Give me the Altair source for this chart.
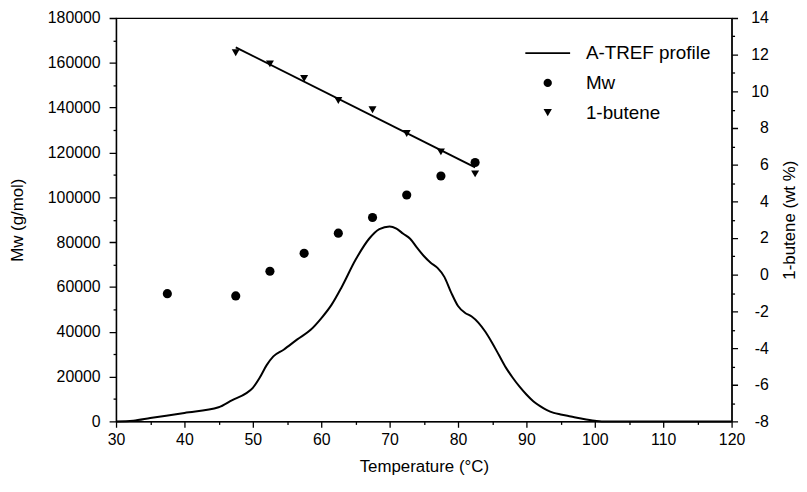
import altair as alt
import pandas as pd

# ---------------- data ----------------
profile_temp = [30, 32.5, 35, 40, 45, 47, 49, 50, 51, 52, 53, 54.5, 56.5, 58.5, 60, 61.5, 63, 65, 67, 68.5,
                70, 71, 72, 73, 74, 75, 76, 77, 78, 79, 80, 81, 82, 83, 84, 85, 86, 87, 88, 89,
                90, 91, 92, 93, 94, 95, 96.5, 98, 100, 101, 110, 120]
profile_val = [0, 300, 1500, 3800, 6300, 9500, 12500, 15000, 19500, 25000, 29000, 32000, 36600, 41000, 46000, 52000, 60000, 72000, 81500, 85800,
               87000, 86000, 83700, 81500, 77500, 73800, 70800, 68500, 64500, 57500, 51500, 48500, 46800, 44000, 40000, 35000, 29500, 24000, 19500, 15500,
               12000, 9000, 6800, 5000, 3800, 3100, 2200, 1300, 300, 0, 0, 0]

mw_temp = [37.5, 47.5, 52.5, 57.5, 62.5, 67.5, 72.5, 77.5, 82.5]
mw_val = [57000, 56000, 67000, 75000, 84000, 91000, 101000, 109500, 115500]

butene_temp = [47.5, 52.5, 57.5, 62.5, 67.5, 72.5, 77.5, 82.5]
butene_val = [12.1, 11.5, 10.7, 9.5, 9.0, 7.7, 6.7, 5.5]

fit_temp = [47.5, 82.5]
fit_val = [12.4, 5.85]

series_names = ["A-TREF profile", "Mw", "1-butene"]

x_ticks = list(range(30, 121, 5))
left_ticks = list(range(0, 180001, 10000))
right_ticks = list(range(-8, 15))

# ---------------- tables ----------------
profile_df = pd.DataFrame({"temp": profile_temp, "value": profile_val})
mw_df = pd.DataFrame({"temp": mw_temp, "value": mw_val, "series": series_names[1]})
butene_df = pd.DataFrame({"temp": butene_temp, "pct": butene_val, "series": series_names[2]})
fit_df = pd.DataFrame({"temp": fit_temp, "pct": fit_val})

FONT = "Liberation Sans"


def minor_dash(step):
    return {"condition": {"test": f"datum.value % {step} !== 0", "value": [3, 20]}, "value": [1, 0]}


X = alt.X(
    "temp:Q",
    scale=alt.Scale(domain=[30, 120], nice=False, zero=False),
    axis=alt.Axis(
        values=x_ticks,
        labelExpr="datum.value % 10 === 0 ? '' + datum.value : ''",
        tickSize=6,
        tickDash=minor_dash(10),
        labelPadding=4,
        title="Temperature (°C)",
        titleX=310.5,
        titleY=46,
        titleAlign="center",
        titleBaseline="middle",
    ),
)

Y_left = alt.Y(
    "value:Q",
    scale=alt.Scale(domain=[0, 180000], nice=False, zero=False),
    axis=alt.Axis(
        values=left_ticks,
        labelExpr="datum.value % 20000 === 0 ? '' + datum.value : ''",
        tickSize=7,
        tickDash=minor_dash(20000),
        labelPadding=9,
        title="Mw (g/mol)",
        titleX=-99,
        titleY=203.5,
        titleAngle=270,
        titleAlign="center",
        titleBaseline="middle",
    ),
)

Y_right = alt.Y(
    "pct:Q",
    scale=alt.Scale(domain=[-8, 14], nice=False, zero=False),
    axis=alt.Axis(
        orient="right",
        values=right_ticks,
        labelExpr="datum.value % 2 === 0 ? '' + datum.value : ''",
        tickSize=6,
        tickDash=minor_dash(2),
        labelAlign="right",
        labelPadding=31,
        title="1-butene (wt %)",
        titleX=58,
        titleY=203.5,
        titleAngle=270,
        titleAlign="center",
        titleBaseline="middle",
    ),
)

shape_enc = alt.Shape(
    "series:N",
    scale=alt.Scale(
        domain=series_names,
        range=["M-5.4,-0.21L5.4,-0.21L5.4,0.21L-5.4,0.21Z", "circle", "triangle-down"],
    ),
    legend=alt.Legend(
        title=None,
        orient="none",
        legendX=426,
        legendY=26,
        symbolSize=70,
        symbolStrokeWidth=0,
        symbolFillColor="black",
        symbolOpacity=1,
        labelFontSize=19,
        labelFont=FONT,
        labelColor="black",
        labelOffset=29,
        rowPadding=10,
        padding=0,
    ),
)

profile = alt.Chart(profile_df).mark_line(color="black", strokeWidth=2, interpolate="monotone").encode(
    x=X, y=Y_left
)
mw = alt.Chart(mw_df).mark_point(filled=True, color="black", opacity=1, size=85).encode(
    x=X, y=Y_left, shape=shape_enc
)
fit = alt.Chart(fit_df).mark_line(color="black", strokeWidth=2).encode(x=X, y=Y_right)
butene = alt.Chart(butene_df).mark_point(filled=True, color="black", opacity=1, size=65).encode(
    x=X, y=Y_right, shape=shape_enc
)

left = alt.layer(profile, mw)
right = alt.layer(fit, butene)

chart = (
    alt.layer(left, right)
    .resolve_scale(y="independent")
    .properties(
        width=621,
        height=407,
        autosize=alt.AutoSizeParams(type="none"),
        padding={"left": 109, "top": 8, "right": 68, "bottom": 55},
        background="white",
    )
    .configure_view(stroke="black", strokeWidth=1.2)
    .configure_axis(
        domainColor="black",
        domainWidth=1.4,
        tickColor="black",
        tickWidth=1.3,
        labelColor="black",
        titleColor="black",
        labelFont=FONT,
        titleFont=FONT,
        labelFontSize=16,
        titleFontSize=17,
        titleFontWeight="normal",
        grid=False,
        labelOverlap=False,
        labelFlush=False,
    )
)

chart.save("out.html", embed_options={"renderer": "svg", "actions": False})
